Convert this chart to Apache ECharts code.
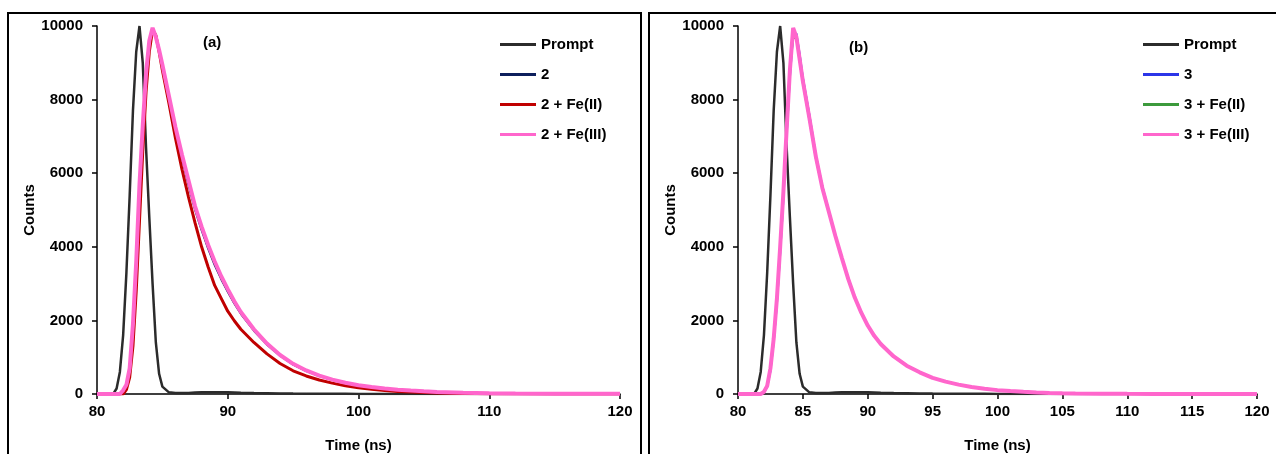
<!DOCTYPE html>
<html>
<head><meta charset="utf-8"></head>
<script type="text/javascript" src="https://cdn.jsdelivr.net/npm/echarts@6/dist/echarts.min.js"></script>
<body style="margin:0;background:#fff;">
<div id="main" style="width:1276px;height:454px;"></div>
</body>
<script type="text/javascript">
// time axis (ns), shared by every curve
var timeNs = [80, 81, 81.25, 81.5, 81.75, 82, 82.25, 82.5, 82.75, 83, 83.25, 83.5, 83.75, 84, 84.25, 84.5, 84.75, 85, 85.5, 86,
    86.5, 87, 87.5, 88, 88.5, 89, 89.5, 90, 90.5, 91, 92, 93, 94, 95, 96, 97, 98, 99, 100, 101,
    102, 103, 104, 105, 106, 108, 110, 112, 115, 120]

// instrument response (same in both panels)
var prompt = [0, 0, 10, 150, 600, 1600, 3300, 5400, 7700, 9300, 10000, 9000, 6700, 4800, 3000, 1400, 550, 200, 45, 25,
    25, 30, 38, 45, 50, 50, 48, 45, 40, 35, 28, 22, 16, 12, 9, 7, 5, 4, 3, 2,
    2, 1, 1, 1, 0, 0, 0, 0, 0, 0]

// panel (a)
var c2 = [0, 0, 0, 0, 0, 90, 230, 650, 1800, 3450, 5500, 7150, 8550, 9500, 9900, 9750, 9300, 8850, 8000, 7150,
    6380, 5680, 5000, 4450, 3950, 3500, 3120, 2780, 2460, 2180, 1720, 1340, 1040, 800, 625, 490, 380, 300, 235, 185,
    145, 115, 90, 70, 55, 34, 21, 13, 7, 3]
var c2Fe2 = [0, 0, 0, 0, 0, 0, 120, 450, 1300, 2800, 4700, 6600, 8200, 9300, 9900, 9750, 9300, 8800, 7900, 6950,
    6100, 5350, 4650, 4000, 3450, 2950, 2600, 2250, 1990, 1760, 1400, 1090, 830, 630, 490, 380, 295, 225, 170, 130,
    95, 70, 52, 38, 28, 15, 8, 5, 2, 1]
var c2Fe3 = [0, 0, 0, 0, 0, 100, 250, 700, 1900, 3600, 5700, 7300, 8700, 9600, 9950, 9700, 9350, 8950, 8100, 7250,
    6500, 5800, 5100, 4550, 4050, 3600, 3200, 2850, 2520, 2230, 1760, 1370, 1060, 820, 640, 500, 390, 305, 240, 190,
    150, 118, 92, 72, 56, 35, 22, 14, 8, 4]

// panel (b)
var c3 = [0, 0, 0, 0, 0, 50, 190, 620, 1400, 2450, 3800, 5300, 7000, 8600, 9750, 9800, 9250, 8600, 7600, 6500,
    5650, 4980, 4320, 3720, 3140, 2640, 2220, 1870, 1590, 1370, 1030, 780, 595, 445, 340, 258, 192, 147, 107, 82,
    60, 44, 31, 23, 17, 10, 6, 3, 2, 1]
var c3Fe2 = [0, 0, 0, 0, 0, 70, 240, 720, 1550, 2650, 4050, 5550, 7250, 8850, 9700, 9650, 9050, 8450, 7450, 6400,
    5580, 4930, 4290, 3690, 3110, 2610, 2200, 1850, 1575, 1355, 1015, 765, 585, 438, 333, 253, 189, 144, 104, 79,
    57, 41, 29, 21, 15, 9, 5, 3, 1, 1]
var c3Fe3 = [0, 0, 0, 0, 0, 60, 220, 700, 1500, 2600, 4000, 5500, 7200, 8800, 9950, 9700, 9100, 8500, 7500, 6450,
    5600, 4950, 4300, 3700, 3120, 2620, 2210, 1860, 1580, 1360, 1020, 770, 590, 440, 335, 255, 190, 145, 105, 80,
    58, 42, 30, 22, 16, 9, 5, 3, 2, 1]

var panelA = ['Prompt', '2', '2 + Fe(II)', '2 + Fe(III)']
var panelB = ['Prompt', '3', '3 + Fe(II)', '3 + Fe(III)']

function pairs(arr) {
    return timeNs.map(function (t, i) { return [t, arr[i]] })
}

var FONT = 'Liberation Sans'
var lbl = { color: '#000', fontFamily: FONT, fontWeight: 'bold', fontSize: 15 }

function xAx(idx, step) {
    return {
        type: 'value', gridIndex: idx, min: 80, max: 120, interval: step,
        name: 'Time (ns)', nameLocation: 'middle', nameGap: 44,
        nameTextStyle: lbl,
        axisLine: { lineStyle: { color: '#000', width: 1.5 } },
        axisTick: { show: true, length: 5, lineStyle: { color: '#000', width: 1.5 } },
        axisLabel: Object.assign({ margin: 10 }, lbl),
        splitLine: { show: false }
    }
}
function yAx(idx) {
    return {
        type: 'value', gridIndex: idx, min: 0, max: 10000, interval: 2000,
        name: 'Counts', nameLocation: 'middle', nameGap: 58,
        nameTextStyle: lbl,
        axisLine: { show: true, lineStyle: { color: '#000', width: 1.5 } },
        axisTick: { show: true, length: 5, lineStyle: { color: '#000', width: 1.5 } },
        axisLabel: Object.assign({ margin: 14, formatter: function (v) { return String(v) } }, lbl),
        splitLine: { show: false }
    }
}
function line(name, arr, idx, color, w) {
    return {
        name: name, type: 'line', xAxisIndex: idx, yAxisIndex: idx,
        data: pairs(arr), symbol: 'none', smooth: false, animation: false,
        itemStyle: { color: color },
        lineStyle: { color: color, width: w }
    }
}
function legendFor(names, left) {
    return {
        data: names, orient: 'vertical', left: left, top: 37, padding: 0,
        itemWidth: 36, itemHeight: 14, itemGap: 15,
        icon: 'path://M0,6 L36,6 L36,9 L0,9 Z',
        textStyle: lbl, selectedMode: false
    }
}

var myChart = echarts.init(document.getElementById('main'))
myChart.setOption({
    animation: false,
    textStyle: { fontFamily: FONT },
    title: [
        { text: '(a)', left: 203, top: 35, padding: 0, textStyle: { fontFamily: FONT, fontWeight: 'bold', fontSize: 15, color: '#000' } },
        { text: '(b)', left: 849, top: 40, padding: 0, textStyle: { fontFamily: FONT, fontWeight: 'bold', fontSize: 15, color: '#000' } }
    ],
    graphic: [
        { type: 'rect', shape: { x: 8, y: 13, width: 633, height: 470 }, style: { fill: 'none', stroke: '#000', lineWidth: 2 } },
        { type: 'rect', shape: { x: 649, y: 13, width: 640, height: 470 }, style: { fill: 'none', stroke: '#000', lineWidth: 2 } }
    ],
    grid: [
        { left: 97, right: 656, top: 26, bottom: 60, outerBoundsMode: 'none' },
        { left: 738, right: 19, top: 26, bottom: 60, outerBoundsMode: 'none' }
    ],
    xAxis: [xAx(0, 10), xAx(1, 5)],
    yAxis: [yAx(0), yAx(1)],
    legend: [legendFor(panelA, 500), legendFor(panelB, 1143)],
    series: [
        line(panelA[0], prompt, 0, '#2b2b2b', 2.5),
        line(panelA[1], c2, 0, '#0d1f5c', 2),
        line(panelA[2], c2Fe2, 0, '#c00000', 3),
        line(panelA[3], c2Fe3, 0, '#ff66cc', 4),
        line(panelB[0], prompt, 1, '#2b2b2b', 2.5),
        line(panelB[1], c3, 1, '#2b35e8', 2),
        line(panelB[2], c3Fe2, 1, '#3c9a3c', 2),
        line(panelB[3], c3Fe3, 1, '#ff66cc', 4)
    ]
})
</script>
</html>
